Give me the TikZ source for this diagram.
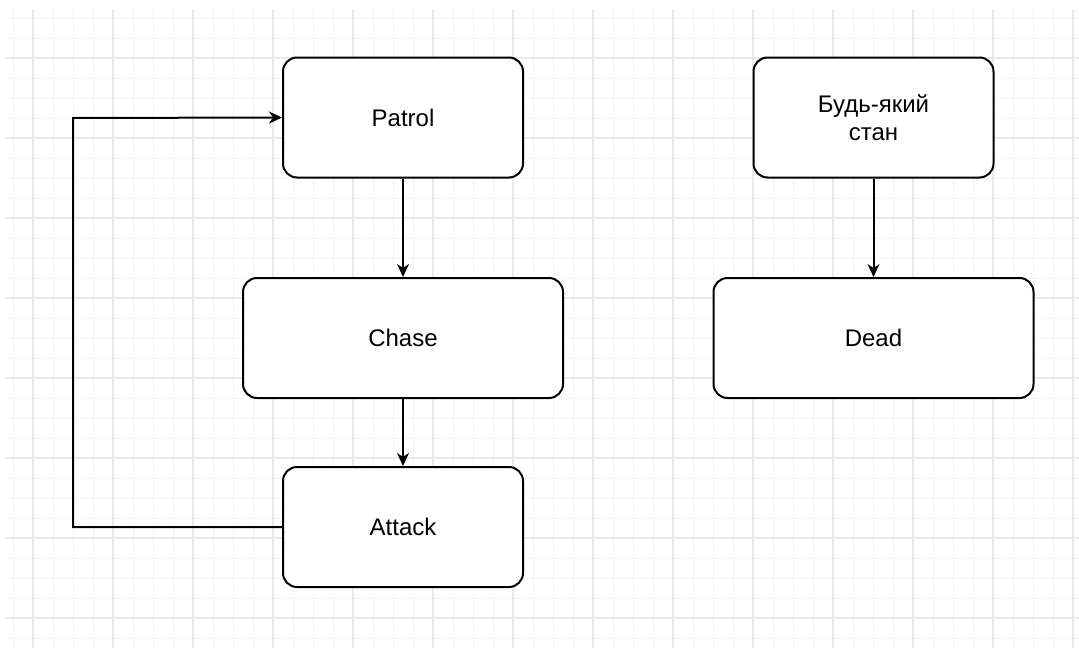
\documentclass[tikz,border=0pt]{standalone}
\usepackage{fontspec}
\setmainfont{Liberation Sans}
\usetikzlibrary{arrows.meta}
\definecolor{gridminor}{HTML}{F4F4F4}
\definecolor{gridmajor}{HTML}{EAEAEA}
\tikzset{
  state/.style={draw=black, line width=2pt, fill=white, rounded corners=14pt,
    minimum width=240pt, minimum height=120pt, inner sep=0pt, align=center,
    font=\fontsize{24}{28}\selectfont},
  wide/.style={minimum width=320pt},
  link/.style={draw=black, line width=2pt,
    -{Stealth[length=13pt, width=12pt, inset=4pt]}},
  minorline/.style={draw=gridminor, line width=1pt},
  majorline/.style={draw=gridmajor, line width=1.2pt}
}
\begin{document}
\begin{tikzpicture}[x=1pt, y=-1pt]
  \useasboundingbox (0,0) rectangle (1079,648);
  \fill[white] (0,0) rectangle (1079,648);
  % background grid: minor every 20, major every 80
  \begin{scope}
    \clip (6,9) rectangle (1079,648);
    \foreach \gx in {13,33,...,1079} \draw[minorline] (\gx,9) -- (\gx,648);
    \foreach \gy in {18,38,...,648} \draw[minorline] (6,\gy) -- (1079,\gy);
    \foreach \gx in {33,113,...,1079} \draw[majorline] (\gx,9) -- (\gx,648);
    \foreach \gy in {58,138,...,648} \draw[majorline] (6,\gy) -- (1079,\gy);
  \end{scope}

  % states
  \node[state] (patrol) at (403,117.5) {Patrol};
  \node[state, wide] (chase) at (403,338) {Chase};
  \node[state] (attack) at (403,527) {Attack};
  \node[state] (any) at (873.5,117.5) {Будь-який\\стан};
  \node[state, wide] (dead) at (873.5,338) {Dead};

  % transitions
  \draw[link] (patrol) -- (chase);
  \draw[link] (chase) -- (attack);
  \draw[link] (any) -- (dead);
  \coordinate (loopbottom) at (73,527);
  \coordinate (looptop) at (73,118);
  \draw[link] (attack.west) -- (loopbottom) -- (looptop) -- (patrol.west);
\end{tikzpicture}
\end{document}
